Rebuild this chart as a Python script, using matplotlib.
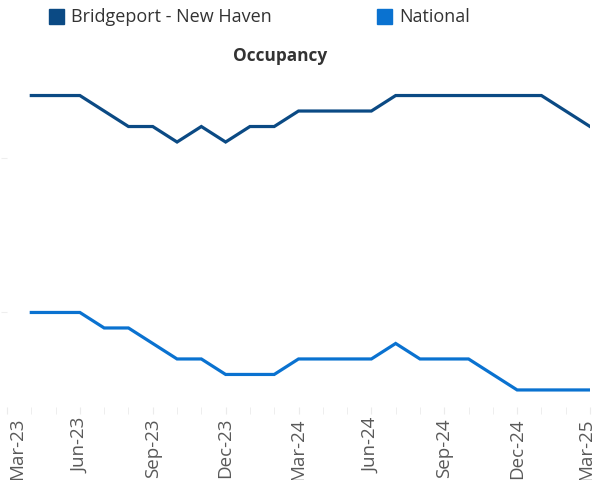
import matplotlib
matplotlib.use('Agg')
import matplotlib.pyplot as plt
import matplotlib.transforms as mtransforms
from matplotlib.patches import Rectangle

# monthly occupancy (%), Mar-23 .. Mar-25 ; first month has no data
months = ["Mar-23", "Apr-23", "May-23", "Jun-23", "Jul-23", "Aug-23", "Sep-23", "Oct-23",
          "Nov-23", "Dec-23", "Jan-24", "Feb-24", "Mar-24", "Apr-24", "May-24", "Jun-24",
          "Jul-24", "Aug-24", "Sep-24", "Oct-24", "Nov-24", "Dec-24", "Jan-25", "Feb-25", "Mar-25"]
bridgeport = [None, 94, 94, 94, 93, 92, 92, 91, 92, 91, 92, 92, 93,
              93, 93, 93, 94, 94, 94, 94, 94, 94, 94, 93, 92]
national = [None, 80, 80, 80, 79, 79, 78, 77, 77, 76, 76, 76, 77,
            77, 77, 77, 78, 77, 77, 77, 76, 75, 75, 75, 75]
series_names = ["Bridgeport - New Haven", "National"]
colors = ["#0B4A84", "#0A72D0"]

plt.rcParams['font.family'] = ['Open Sans', 'DejaVu Sans']

fig = plt.figure(figsize=(5.97, 4.8), dpi=100)
W, H = 597, 480
ax = fig.add_axes([7 / W, (H - 407) / H, (590 - 7) / W, 406 / H])

x = list(range(len(months)))
for vals, c in zip([bridgeport, national], colors):
    xs = [i for i, v in zip(x, vals) if v is not None]
    ys = [v for v in vals if v is not None]
    ax.plot(xs, ys, color=c, linewidth=2.3, solid_joinstyle='miter')

ax.set_xlim(0, len(months) - 1)
ax.set_ylim(73.9, 100.1)
ax.set_yticks([80, 90])
ax.set_yticklabels([])
ax.tick_params(axis='y', length=4, color='#EEEEEE')
ax.set_xticks(x[::3])
ax.set_xticklabels(months[::3], rotation=90, fontsize=13.5, color='#595959')
ax.set_xticks(x, minor=True)
ax.tick_params(axis='x', which='both', length=5, color='#EBEBEB', pad=3)
for s in ax.spines.values():
    s.set_visible(False)

# end labels are nudged inward so they are not cut at the edges
labels = ax.get_xticklabels()
for lab, dx in [(labels[0], 10), (labels[-1], -4)]:
    lab.set_transform(lab.get_transform() +
                      mtransforms.ScaledTranslation(dx / 100, 0, fig.dpi_scale_trans))

fig.text(280 / W, 1 - 56 / H, "Occupancy", ha='center', va='center',
         fontsize=12.4, fontweight='bold', color='#333333')

# legend drawn by hand at the top
for name, c, sx in zip(series_names, colors, [49, 377]):
    fig.add_artist(Rectangle((sx / W, 1 - 24 / H), 15 / W, 15 / H,
                             transform=fig.transFigure, color=c))
    fig.text((sx + 22) / W, 1 - 17 / H, name, ha='left', va='center',
             fontsize=13, color='#333333')

fig.savefig("out.png", dpi=100)
